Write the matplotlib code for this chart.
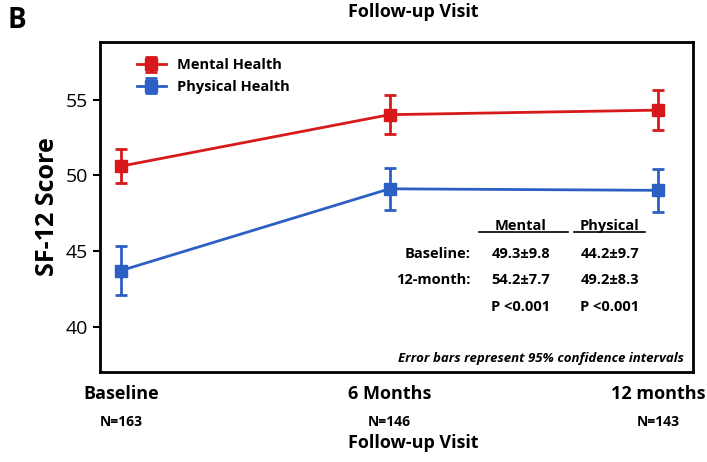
import matplotlib.pyplot as plt

visits = ["Baseline", "6 Months", "12 months"]
counts = ["N=163", "N=146", "N=143"]
mental = [50.6, 54.0, 54.3]
mental_err = [1.1, 1.3, 1.3]
physical = [43.7, 49.1, 49.0]
physical_err = [1.6, 1.4, 1.4]

plt.rcParams['font.family'] = ['Open Sans', 'DejaVu Sans']
fig = plt.figure(figsize=(7.07, 4.62), dpi=100)
ax = fig.add_axes([0.141, 0.195, 0.839, 0.714])
x = range(len(visits))
ax.errorbar(x, mental, yerr=mental_err, color='#d7191c', marker='s', ms=8,
            lw=2, capsize=4, elinewidth=2, capthick=2, label='Mental Health')
ax.errorbar(x, physical, yerr=physical_err, color='#2c5fc4', marker='s', ms=8,
            lw=2, capsize=4, elinewidth=2, capthick=2, label='Physical Health')
ax.set_xlim(-0.08, 2.13)
ax.set_ylim(37.0, 58.8)
ax.set_yticks([40, 45, 50, 55])
ax.set_xticks(list(x))
ax.set_xticklabels([])
for i, (v, n) in enumerate(zip(visits, counts)):
    ax.text(i, -0.04, v, transform=ax.get_xaxis_transform(), ha='center',
            va='top', fontsize=13, fontweight='bold')
    ax.text(i, -0.13, n, transform=ax.get_xaxis_transform(), ha='center',
            va='top', fontsize=10, fontweight='bold')
ax.tick_params(axis='y', labelsize=14, width=1.5, length=5)
ax.tick_params(axis='x', length=0)
for s in ax.spines.values():
    s.set_linewidth(2)
ax.set_ylabel('SF-12 Score', fontsize=18, fontweight='bold')
fig.text(0.585, 0.03, 'Follow-up Visit', ha='center', fontsize=13, fontweight='bold')
fig.text(0.585, 0.975, 'Follow-up Visit', ha='center', va='center', fontsize=13, fontweight='bold')
fig.text(0.01, 0.955, 'B', fontsize=20, fontweight='bold', va='center')
ax.legend(loc='upper left', frameon=False, prop={'size': 10.5, 'weight': 'bold'},
          bbox_to_anchor=(0.04, 0.99), handlelength=2)

tx = ax.transAxes
kw = dict(transform=tx, fontsize=10.5, fontweight='bold')
ax.text(0.71, 0.43, 'Mental', ha='center', **kw)
ax.text(0.86, 0.43, 'Physical', ha='center', **kw)
ax.plot([0.64, 0.79], [0.425, 0.425], transform=tx, color='k', lw=1.2)
ax.plot([0.80, 0.92], [0.425, 0.425], transform=tx, color='k', lw=1.2)
ax.text(0.625, 0.345, 'Baseline:', ha='right', **kw)
ax.text(0.71, 0.345, '49.3±9.8', ha='center', **kw)
ax.text(0.86, 0.345, '44.2±9.7', ha='center', **kw)
ax.text(0.625, 0.265, '12-month:', ha='right', **kw)
ax.text(0.71, 0.265, '54.2±7.7', ha='center', **kw)
ax.text(0.86, 0.265, '49.2±8.3', ha='center', **kw)
ax.text(0.71, 0.185, 'P <0.001', ha='center', **kw)
ax.text(0.86, 0.185, 'P <0.001', ha='center', **kw)
ax.text(0.985, 0.03, 'Error bars represent 95% confidence intervals', ha='right',
        transform=tx, fontsize=9.5, fontweight='bold', style='italic')
fig.savefig('out.png')
